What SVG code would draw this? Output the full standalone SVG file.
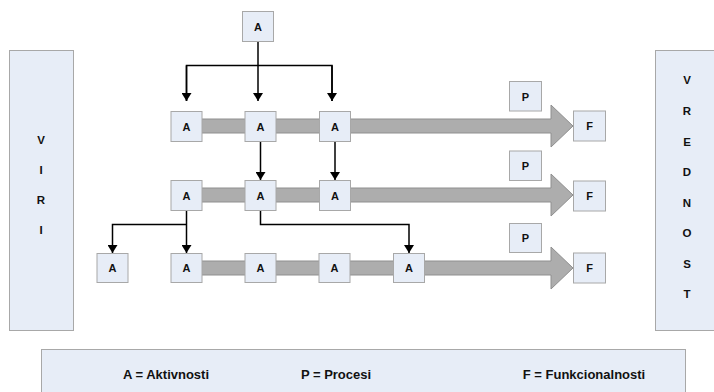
<svg xmlns="http://www.w3.org/2000/svg" width="714" height="392" viewBox="0 0 714 392">
  <defs>
    <style>
      .box { fill: #e7edf7; stroke: #a8a8a8; stroke-width: 1; }
      .lbl { font-family: "Liberation Sans", Arial, sans-serif; font-weight: bold; font-size: 11px; fill: #111; text-anchor: middle; }
      .side { font-family: "Liberation Sans", Arial, sans-serif; font-weight: bold; font-size: 11.5px; fill: #111; text-anchor: middle; }
      .leg { font-family: "Liberation Sans", Arial, sans-serif; font-weight: bold; font-size: 13px; fill: #111; text-anchor: middle; }
      .flow { fill: #adadad; stroke: #8f8f8f; stroke-width: 1; }
      .con { fill: none; stroke: #000; stroke-width: 1.5; }
    </style>
    <marker id="ah" viewBox="0 0 8 10" refX="8" refY="5" markerWidth="8" markerHeight="10" markerUnits="userSpaceOnUse" orient="auto">
      <path d="M0,0 L8,5 L0,10 Z" fill="#000"/>
    </marker>
  </defs>

  <!-- side panels -->
  <g id="viri">
    <rect class="box" x="9.5" y="50.5" width="64" height="280"/>
    <text class="side" x="41" y="144">V</text>
    <text class="side" x="41" y="174">I</text>
    <text class="side" x="41" y="204">R</text>
    <text class="side" x="41" y="234">I</text>
  </g>
  <g id="vrednost">
    <rect class="box" x="655.5" y="50.5" width="64" height="280"/>
    <text class="side" x="687" y="84">V</text>
    <text class="side" x="687" y="115">R</text>
    <text class="side" x="687" y="146">E</text>
    <text class="side" x="687" y="176">D</text>
    <text class="side" x="687" y="207">N</text>
    <text class="side" x="687" y="237">O</text>
    <text class="side" x="687" y="268">S</text>
    <text class="side" x="687" y="298">T</text>
  </g>

  <!-- process flow arrows -->
  <g id="flows">
    <path class="flow" d="M186,119 L551,119 L551,105 L573,126 L551,147 L551,133 L186,133 Z"/>
    <path class="flow" d="M186,188 L551,188 L551,174 L573,195 L551,216 L551,202 L186,202 Z"/>
    <path class="flow" d="M186,261 L551,261 L551,247 L573,268 L551,289 L551,275 L186,275 Z"/>
  </g>

  <!-- connectors -->
  <g id="connectors">
    <path class="con" d="M258,41 V101" marker-end="url(#ah)"/>
    <path class="con" d="M186.5,101 V65.5 H332 V101" />
    <path class="con" d="M186.5,65.5 V101" marker-end="url(#ah)"/>
    <path class="con" d="M332,65.5 V101" marker-end="url(#ah)"/>
    <path class="con" d="M260.5,141 V180" marker-end="url(#ah)"/>
    <path class="con" d="M335,141 V180" marker-end="url(#ah)"/>
    <path class="con" d="M186.5,210 V253" marker-end="url(#ah)"/>
    <path class="con" d="M186.5,224.5 H112.5 V253" marker-end="url(#ah)"/>
    <path class="con" d="M260.5,210 V224.5 H409 V253" marker-end="url(#ah)"/>
  </g>

  <!-- activity nodes -->
  <g id="a-top"><rect class="box" x="242.5" y="11.5" width="31" height="30"/><text class="lbl" x="258" y="30.5">A</text></g>

  <g id="a-1-1"><rect class="box" x="171" y="111.5" width="31" height="30"/><text class="lbl" x="186.5" y="130.5">A</text></g>
  <g id="a-1-2"><rect class="box" x="245" y="111.5" width="31" height="30"/><text class="lbl" x="260.5" y="130.5">A</text></g>
  <g id="a-1-3"><rect class="box" x="319.5" y="111.5" width="31" height="30"/><text class="lbl" x="335" y="130.5">A</text></g>

  <g id="a-2-1"><rect class="box" x="171" y="180.5" width="31" height="30"/><text class="lbl" x="186.5" y="199.5">A</text></g>
  <g id="a-2-2"><rect class="box" x="245" y="180.5" width="31" height="30"/><text class="lbl" x="260.5" y="199.5">A</text></g>
  <g id="a-2-3"><rect class="box" x="319.5" y="180.5" width="31" height="30"/><text class="lbl" x="335" y="199.5">A</text></g>

  <g id="a-3-0"><rect class="box" x="97" y="253.5" width="31" height="29"/><text class="lbl" x="112.5" y="272">A</text></g>
  <g id="a-3-1"><rect class="box" x="171" y="253.5" width="31" height="29"/><text class="lbl" x="186.5" y="272">A</text></g>
  <g id="a-3-2"><rect class="box" x="245" y="253.5" width="31" height="29"/><text class="lbl" x="260.5" y="272">A</text></g>
  <g id="a-3-3"><rect class="box" x="319" y="253.5" width="31" height="29"/><text class="lbl" x="334.5" y="272">A</text></g>
  <g id="a-3-4"><rect class="box" x="393.5" y="253.5" width="31" height="29"/><text class="lbl" x="409" y="272">A</text></g>

  <!-- process nodes -->
  <g id="p-1"><rect class="box" x="509.5" y="81.5" width="32" height="29.5"/><text class="lbl" x="525.5" y="100.5">P</text></g>
  <g id="p-2"><rect class="box" x="509.5" y="151" width="32" height="29.5"/><text class="lbl" x="525.5" y="170">P</text></g>
  <g id="p-3"><rect class="box" x="509.5" y="223.5" width="32" height="29"/><text class="lbl" x="525.5" y="242">P</text></g>

  <!-- functionality nodes -->
  <g id="f-1"><rect class="box" x="573.5" y="111" width="32" height="30"/><text class="lbl" x="589.5" y="130">F</text></g>
  <g id="f-2"><rect class="box" x="573.5" y="181" width="32" height="30"/><text class="lbl" x="589.5" y="200">F</text></g>
  <g id="f-3"><rect class="box" x="573.5" y="253" width="32" height="30"/><text class="lbl" x="589.5" y="272">F</text></g>

  <!-- legend -->
  <g id="legend">
    <rect class="box" x="41.5" y="349.5" width="644" height="50"/>
    <text class="leg" x="166" y="379">A = Aktivnosti</text>
    <text class="leg" x="336" y="379">P = Procesi</text>
    <text class="leg" x="584" y="379">F = Funkcionalnosti</text>
  </g>
</svg>
